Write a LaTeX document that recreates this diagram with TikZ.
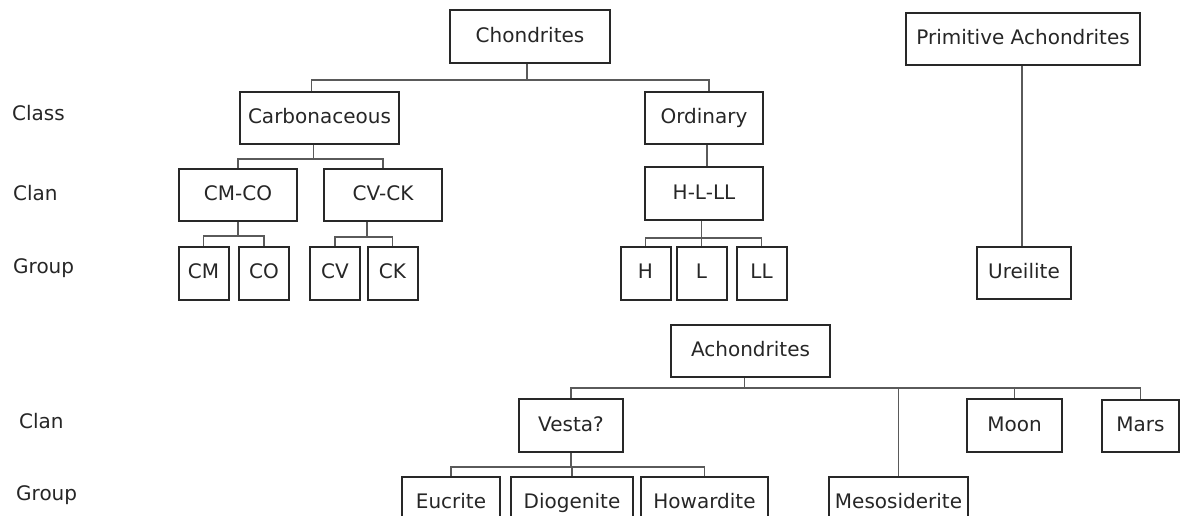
\documentclass[tikz,border=0pt]{standalone}
\usepackage{fontspec}
\setmainfont{DejaVu Sans}
\usetikzlibrary{positioning,calc}
\definecolor{boxgray}{RGB}{40,40,40}
\definecolor{linkgray}{RGB}{90,90,90}

\begin{document}
\begin{tikzpicture}[x=1pt, y=-1pt,
    font=\fontsize{20}{24}\selectfont,
    taxon/.style={draw=boxgray, line width=2pt, rectangle, inner sep=0pt, text height=14.6pt, text depth=3.5pt, text=black!85},
    link/.style={draw=linkgray, line width=1.7pt},
    level/.style={anchor=west, inner sep=0pt, text=black!85}]

        \useasboundingbox (0,0) rectangle (1180,515);
        \clip (0,0) rectangle (1180,515);

        % row labels
        \foreach \lab/\ypos/\xpos [count=\c] in {Class/113/12, Clan/193/13, Group/268/13, Clan/421/19, Group/495/16} {
            \node[level] (lbl\c) at (\xpos,\ypos) {\lab};
        }

        % chondrites
        \node[taxon, minimum width=160, minimum height=53] (chon) at (530,36.5) {Chondrites};
        \node[taxon, minimum width=159, minimum height=52] (carb) at (319.5,118) {Carbonaceous};
        \node[taxon, minimum width=118, minimum height=52] (ord) at (704,118) {Ordinary};
        \node[taxon, minimum width=118, minimum height=52] (cmco) at (238,195) {CM-CO};
        \node[taxon, minimum width=118, minimum height=52] (cvck) at (383,195) {CV-CK};
        \node[taxon, minimum width=118, minimum height=53] (hll) at (704,193.5) {H-L-LL};

        \foreach \nm/\lab/\xpos in {cm/CM/203.5, co/CO/264, cv/CV/335, ck/CK/392.5, h/H/645.5, l/L/701.5, ll/LL/761.5} {
            \node[taxon, minimum width=50, minimum height=53] (\nm) at (\xpos,273) {\lab};
        }

        % primitive achondrites
        \node[taxon, minimum width=234, minimum height=52] (prim) at (1023,39) {Primitive Achondrites};
        \node[taxon, minimum width=94, minimum height=52] (ure) at (1024,273) {Ureilite};

        % achondrites
        \node[taxon, minimum width=159, minimum height=52] (ach) at (750.5,351) {Achondrites};
        \node[taxon, minimum width=104, minimum height=53] (vesta) at (571,425.5) {Vesta?};
        \node[taxon, minimum width=95, minimum height=53] (moon) at (1014.5,425.5) {Moon};
        \node[taxon, minimum width=77, minimum height=52] (mars) at (1140.5,426) {Mars};
        \node[taxon, minimum width=98, minimum height=52] (euc) at (451,503) {Eucrite};
        \node[taxon, minimum width=122, minimum height=52] (dio) at (572,503) {Diogenite};
        \node[taxon, minimum width=127, minimum height=52] (how) at (704.5,503) {Howardite};
        \node[taxon, minimum width=139, minimum height=52] (meso) at (898.5,503) {Mesosiderite};

        % connectors
        \draw[link] ([xshift=-3]chon.south) -- ++(0,16) coordinate (chonbus);
        \draw[link] ([xshift=-8]carb.north) |- (chonbus) -| ([xshift=5]ord.north);

        \draw[link] ([xshift=-6]carb.south) -- ++(0,14) coordinate (carbbus);
        \draw[link] (cmco.north) |- (carbbus) -| (cvck.north);

        \draw[link] (cmco.south) -- ++(0,14) coordinate (cmcobus);
        \draw[link] (cm.north) |- (cmcobus) -| (co.north);

        \draw[link] ([xshift=-16]cvck.south) -- ++(0,15) coordinate (cvckbus);
        \draw[link] (cv.north) |- (cvckbus) -| (ck.north);

        \draw[link] ([xshift=3]ord.south) -- ([xshift=3]hll.north);
        \draw[link] (l.north |- hll.south) -- (l.north);
        \path (hll.south) ++(0,17) coordinate (hllbus);
        \draw[link] (h.north) |- (hllbus) -| (ll.north);

        \draw[link] ([xshift=-1]prim.south) -- ([xshift=-1]prim.south |- ure.north);

        \draw[link] ([xshift=-6]ach.south) -- ++(0,10) coordinate (achbus);
        \draw[link] (vesta.north) |- (achbus) -| (mars.north);
        \draw[link] (moon.north) -- (moon.north |- achbus);
        \draw[link] (meso.north) -- (meso.north |- achbus);

        \draw[link] (vesta.south) -- ++(0,14) coordinate (vestabus);
        \draw[link] (euc.north) |- (vestabus) -| (how.north);
        \draw[link] (dio.north) -- (dio.north |- vestabus);

    \end{tikzpicture}
\end{document}
